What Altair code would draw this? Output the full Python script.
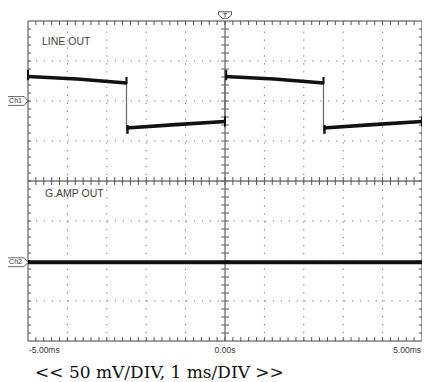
import altair as alt
import numpy as np
import pandas as pd

# ---- values (50 mV/div, 1 ms/div) ----
# Ch1 "LINE OUT": square wave segments (time ms, level mV)
ch1_seg = [1, 1, 1, 1, 2, 2, 2, 3, 3, 3, 3, 4, 4, 4]
ch1_t = [-5.0, -4.75, -3.75, -2.5, -2.5, -1.25, 0.0, 0.0, 0.25, 1.25, 2.5, 2.5, 3.75, 5.0]
ch1_mv = [30.6, 30.0, 27.5, 22.5, -33.8, -29.5, -25.6, 30.6, 30.0, 27.5, 22.5, -33.8, -29.5, -25.6]

# Ch1 edges (thin transition lines)
edge_t = [-2.5, 0.0, 2.5]
edge_lo = [-41.0, -33.0, -41.0]
edge_hi = [30.0, 39.0, 30.0]

# Ch1 spikes at transitions
spike_t = [-5.0, -2.5, -2.47, 0.0, 0.03, 2.5, 2.53, 5.0]
spike_lo = [26.0, 21.0, -41.0, -32.0, 26.0, 21.0, -41.0, -32.0]
spike_hi = [39.0, 30.0, -30.0, -19.0, 39.0, 30.0, -30.0, -19.0]

# Ch2 "G.AMP OUT": flat trace
ch2_t = [-5.0, 5.0]
ch2_mv = [-1.5, -1.5]

time_labels = ["-5.00ms", "0.00s", "5.00ms"]
time_label_t = [-5.0, 0.0, 5.0]
caption = "<< 50 mV/DIV, 1 ms/DIV >>"

MV_PER_DIV = 50.0
CH1_OFF, CH2_OFF = 2.0, -2.0

XS = alt.Scale(domain=[-5, 5], nice=False, zero=False)
YS = alt.Scale(domain=[-4, 4], nice=False, zero=False)


def X(field=None, datum=None):
    if datum is not None:
        return alt.X(datum=datum, type="quantitative", scale=XS, axis=None)
    return alt.X(field, type="quantitative", scale=XS, axis=None)


def Y(field=None, datum=None):
    if datum is not None:
        return alt.Y(datum=datum, type="quantitative", scale=YS, axis=None)
    return alt.Y(field, type="quantitative", scale=YS, axis=None)


df1 = pd.DataFrame({"seg": ch1_seg, "t": ch1_t, "y": np.array(ch1_mv) / MV_PER_DIV + CH1_OFF})
dfe = pd.DataFrame({"t": edge_t, "y": np.array(edge_lo) / MV_PER_DIV + CH1_OFF,
                    "y2": np.array(edge_hi) / MV_PER_DIV + CH1_OFF})
dfs = pd.DataFrame({"t": spike_t, "y": np.array(spike_lo) / MV_PER_DIV + CH1_OFF,
                    "y2": np.array(spike_hi) / MV_PER_DIV + CH1_OFF})
df2 = pd.DataFrame({"t": ch2_t, "y": np.array(ch2_mv) / MV_PER_DIV + CH2_OFF})

# graticule
vgrid = pd.DataFrame({"t": [-4, -3, -2, -1, 1, 2, 3, 4]})
hgrid = pd.DataFrame({"y": [-3, -2, -1, 1, 2, 3]})

xt = np.round(np.arange(-5, 5.0001, 0.2), 3)[1:-1]
yt = np.round(np.arange(-4, 4.0001, 0.2), 3)[1:-1]
tick_rows = []
for v in xt:
    tick_rows.append(dict(x=v, x2=v, y=4.0, y2=3.9, g="edge"))
    tick_rows.append(dict(x=v, x2=v, y=-4.0, y2=-3.9, g="edge"))
    tick_rows.append(dict(x=v, x2=v, y=-0.1, y2=0.1, g="edge"))
for v in yt:
    tick_rows.append(dict(x=-0.1, x2=0.1, y=v, y2=v, g="center"))
    tick_rows.append(dict(x=-5.0, x2=-4.92, y=v, y2=v, g="edge"))
    tick_rows.append(dict(x=4.92, x2=5.0, y=v, y2=v, g="edge"))
ticks = pd.DataFrame(tick_rows)

base_none = alt.Chart(pd.DataFrame({"a": [0]}))

grid_v = alt.Chart(vgrid).mark_rule(color="#777", strokeWidth=1, strokeDash=[1.3, 6.6]).encode(
    x=X("t"), y=Y(datum=-4), y2=alt.Y2(datum=4))
grid_h = alt.Chart(hgrid).mark_rule(color="#777", strokeWidth=1, strokeDash=[1.3, 6.6]).encode(
    y=Y("y"), x=X(datum=-5), x2=alt.X2(datum=5))

center_v = base_none.mark_rule(color="#8a8a8a", strokeWidth=1.6).encode(
    x=X(datum=0), y=Y(datum=-4), y2=alt.Y2(datum=4))
divider = base_none.mark_rule(color="#777", strokeWidth=1.6).encode(
    y=Y(datum=0), x=X(datum=-5), x2=alt.X2(datum=5))
frame = base_none.mark_rect(fillOpacity=0, stroke="#444", strokeWidth=1).encode(
    x=X(datum=-5), x2=alt.X2(datum=5), y=Y(datum=-4), y2=alt.Y2(datum=4))

ticks_edge = alt.Chart(ticks[ticks.g == "edge"]).mark_rule(color="#555", strokeWidth=1).encode(
    x=X("x"), x2="x2", y=Y("y"), y2="y2")
ticks_center = alt.Chart(ticks[ticks.g == "center"]).mark_rule(color="#777", strokeWidth=1.2).encode(
    x=X("x"), x2="x2", y=Y("y"), y2="y2")

trace1 = alt.Chart(df1).mark_line(color="#111", strokeWidth=3.6).encode(
    x=X("t"), y=Y("y"), detail="seg:N")
edges = alt.Chart(dfe).mark_rule(color="#666", strokeWidth=1.2).encode(
    x=X("t"), y=Y("y"), y2="y2")
spikes = alt.Chart(dfs).mark_rule(color="#111", strokeWidth=2).encode(
    x=X("t"), y=Y("y"), y2="y2")
trace2 = alt.Chart(df2).mark_line(color="#111", strokeWidth=4).encode(
    x=X("t"), y=Y("y"))

lbl_font = "Liberation Sans"
line_out = base_none.mark_text(text="LINE OUT", font=lbl_font, fontSize=10.5, color="#444",
                               align="left", baseline="middle", dx=14, dy=20.5).encode(
    x=X(datum=-5), y=Y(datum=4))
gamp_out = base_none.mark_text(text="G.AMP OUT", font=lbl_font, fontSize=10.5, color="#444",
                               align="left", baseline="middle", dx=17, dy=12.5).encode(
    x=X(datum=-5), y=Y(datum=0))

ch_path = "M-1,-0.42L0.64,-0.42L1,0L0.64,0.42L-1,0.42Z"
ch_df = pd.DataFrame({"lab": ["Ch1", "Ch2"], "y": [CH1_OFF, CH2_OFF + ch2_mv[0] / MV_PER_DIV]})
ch_box = alt.Chart(ch_df).mark_point(shape=ch_path, size=441, filled=True, fill="white",
                                     stroke="#444", strokeWidth=0.8, opacity=1, xOffset=-10.5).encode(
    x=X(datum=-5), y=Y("y"))
ch_txt = alt.Chart(ch_df).mark_text(font=lbl_font, fontSize=7, color="#333", align="center",
                                    baseline="middle", dx=-12.5).encode(
    x=X(datum=-5), y=Y("y"), text="lab:N")

trig_path = "M-1,-0.5L1,-0.5L1,0L0.4,0.5L-0.4,0.5L-1,0Z"
trig = base_none.mark_point(shape=trig_path, size=169, filled=True, fill="white", stroke="#444",
                            strokeWidth=0.9, opacity=1, yOffset=-6).encode(
    x=X(datum=0), y=Y(datum=4))
trig_t = base_none.mark_text(text="T", font=lbl_font, fontSize=6, fontWeight="bold", color="#444",
                             align="center", baseline="middle", dy=-6).encode(
    x=X(datum=0), y=Y(datum=4))

tl_df = pd.DataFrame({"t": time_label_t, "lab": time_labels})
tl_left = alt.Chart(tl_df.iloc[[0]]).mark_text(font=lbl_font, fontSize=8.5, color="#333", align="left",
                                               baseline="middle", dx=1, dy=9).encode(
    x=X("t"), y=Y(datum=-4), text="lab:N")
tl_mid = alt.Chart(tl_df.iloc[[1]]).mark_text(font=lbl_font, fontSize=8.5, color="#333", align="center",
                                              baseline="middle", dy=9).encode(
    x=X("t"), y=Y(datum=-4), text="lab:N")
tl_right = alt.Chart(tl_df.iloc[[2]]).mark_text(font=lbl_font, fontSize=8.5, color="#333", align="right",
                                                baseline="middle", dx=-1, dy=9).encode(
    x=X("t"), y=Y(datum=-4), text="lab:N")

cap = base_none.mark_text(text=caption, font="DejaVu Serif", fontSize=17, color="#111",
                          align="left", baseline="alphabetic", dx=7, dy=37).encode(
    x=X(datum=-5), y=Y(datum=-4))

chart = alt.layer(
    grid_v, grid_h, center_v, divider, ticks_center, ticks_edge, frame,
    trace2, edges, trace1, spikes,
    line_out, gamp_out, ch_box, ch_txt, trig, trig_t,
    tl_left, tl_mid, tl_right, cap,
).properties(
    width=394, height=320,
    autosize=alt.AutoSizeParams(type="none"),
    padding={"left": 20, "top": 13, "right": 0, "bottom": 41},
    background="white",
).configure_view(strokeWidth=0)

chart.save("out.html", embed_options={"renderer": "svg", "actions": False})
